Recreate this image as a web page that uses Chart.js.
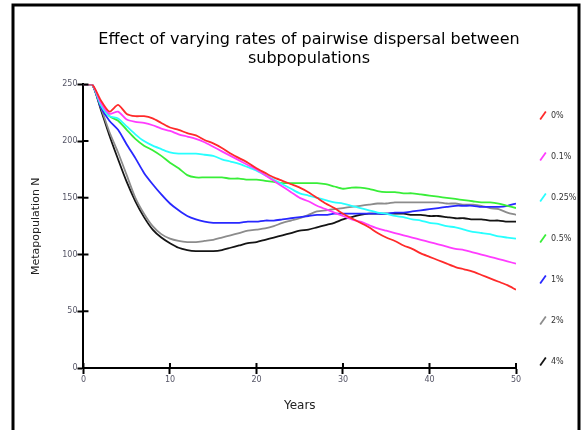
<!DOCTYPE html>
<html lang="en">
<head>
<meta charset="UTF-8">
<title>Effect of varying rates of pairwise dispersal</title>
<script src="https://cdn.jsdelivr.net/npm/chart.js"></script>
<style>
  html, body { margin: 0; padding: 0; background: #fff; }
  #wrap { width: 582px; height: 430px; }
</style>
</head>
<body>
<div id="wrap"><canvas id="chart" width="582" height="430"></canvas></div>
<script>
// years 0..50
const years = [];
for (let i = 0; i <= 50; i++) years.push(i);

const labels = ['0%', '0.1%', '0.25%', '0.5%', '1%', '2%', '4%'];
const colors = ['#ff2a2a', '#ff3cff', '#28ffff', '#38ee38', '#2828ff', '#8c8c8c', '#141414'];

const rate0 = [250,250,236,226,232,224,222,222,220,216,212,210,207,205,201,198,194,189,185,181,176,172,168,165,162,159,155,150,145,141,136,132,128,124,119,115,112,108,105,101,98,95,92,89,87,85,82,79,76,73,69];
const rate01 = [250,250,234,224,226,219,217,216,214,211,209,206,204,202,199,195,191,187,183,179,175,170,165,160,155,150,147,143,140,137,134,131,129,126,123,121,119,117,115,113,111,109,107,105,104,102,100,98,96,94,92];
const rate025 = [250,250,232,222,220,213,206,200,196,193,190,189,189,189,188,187,184,182,180,177,174,170,166,162,158,154,152,150,148,146,145,143,141,139,137,136,134,133,131,130,128,127,125,124,122,120,119,118,116,115,114];
const rate05 = [250,250,232,222,218,210,202,196,192,187,181,176,170,168,168,168,168,167,167,166,166,165,164,163,163,163,163,163,162,160,158,159,159,158,156,155,155,154,154,153,152,151,150,149,148,147,146,146,145,143,141];
const rate1 = [250,250,230,218,210,197,185,172,162,153,145,139,134,131,129,128,128,128,128,129,129,130,130,131,132,133,134,135,135,136,136,136,136,136,136,136,137,137,138,139,140,141,142,143,143,143,142,142,142,143,145];
const rate2 = [250,250,230,208,190,170,150,136,125,118,114,112,111,111,112,113,115,117,119,121,122,123,125,128,130,132,135,138,139,140,141,142,143,144,145,145,146,146,146,146,146,146,145,145,144,144,143,141,140,137,135];
const rate4 = [250,250,228,205,184,164,147,133,122,115,110,106,104,103,103,103,104,106,108,110,111,113,115,117,119,121,122,124,126,128,131,133,135,136,136,136,136,136,135,135,134,134,133,132,132,131,131,130,130,129,129];

const series = [rate0, rate01, rate025, rate05, rate1, rate2, rate4];

const xTicks = [0, 10, 20, 30, 40, 50];
const yTicks = [0, 50, 100, 150, 200, 250];

const FONT = 'DejaVu Sans';

// frame around the figure (left, top, right)
const framePlugin = {
  id: 'frame',
  afterDraw(chart) {
    const ctx = chart.ctx;
    ctx.save();
    ctx.strokeStyle = '#000';
    ctx.lineWidth = 3;
    ctx.beginPath();
    ctx.moveTo(13, 430);
    ctx.lineTo(13, 5);
    ctx.lineTo(579, 5);
    ctx.lineTo(579, 430);
    ctx.stroke();
    ctx.restore();
  }
};

// the ticks in the original cross the axis line: draw the inner half
const innerTicks = {
  id: 'innerTicks',
  afterDraw(chart) {
    const ctx = chart.ctx;
    const { x, y } = chart.scales;
    ctx.save();
    ctx.strokeStyle = '#000';
    ctx.lineWidth = 2;
    ctx.beginPath();
    xTicks.forEach(v => {
      const px = x.getPixelForValue(v);
      ctx.moveTo(px, y.bottom);
      ctx.lineTo(px, y.bottom - 5);
    });
    yTicks.forEach(v => {
      const py = y.getPixelForValue(v);
      ctx.moveTo(x.left, py);
      ctx.lineTo(x.left + 5, py);
    });
    ctx.stroke();
    ctx.restore();
  }
};

// legend padding is wide on both sides, pull the items closer to the plot and lower
const legendShift = {
  id: 'legendShift',
  afterLayout(chart) {
    chart.legend.left -= 10;
    chart.legend.right -= 10;
    chart.legend.top += 23;
    chart.legend.bottom += 23;
  }
};

const ctx = document.getElementById('chart').getContext('2d');
new Chart(ctx, {
  type: 'line',
  data: {
    labels: years,
    datasets: series.map((s, i) => ({
      label: labels[i],
      data: s.map((v, k) => ({ x: years[k], y: v })),
      borderColor: colors[i],
      backgroundColor: colors[i],
      borderWidth: 1.8,
      pointRadius: 0,
      pointStyle: 'line',
      pointRotation: -55,
      tension: 0.25,
      fill: false
    }))
  },
  options: {
    responsive: false,
    animation: false,
    layout: { padding: { left: 26, right: -10, top: 14, bottom: 13 } },
    plugins: {
      title: {
        display: true,
        text: ['Effect of varying rates of pairwise dispersal between', 'subpopulations'],
        font: { family: FONT, size: 16, weight: 'normal' },
        color: '#000',
        padding: { top: 16, bottom: 16 }
      },
      legend: {
        position: 'right',
        maxWidth: 76,
        labels: {
          usePointStyle: true,
          boxHeight: 7,
          padding: 33,
          color: '#333',
          font: { family: FONT, size: 8 }
        }
      },
      tooltip: { enabled: false }
    },
    scales: {
      x: {
        type: 'linear',
        min: 0,
        max: 50,
        afterBuildTicks: axis => { axis.ticks = xTicks.map(v => ({ value: v })); },
        grid: { drawOnChartArea: false, tickLength: 6, color: '#000', tickWidth: 2 },
        border: { color: '#000', width: 2 },
        ticks: { color: '#556', font: { family: FONT, size: 8 }, padding: 1 },
        title: { display: true, text: 'Years', color: '#222', font: { family: FONT, size: 12 }, padding: { top: 13, bottom: 4 } }
      },
      y: {
        min: 0,
        max: 250,
        afterBuildTicks: axis => { axis.ticks = yTicks.map(v => ({ value: v })); },
        grid: { drawOnChartArea: false, tickLength: 6, color: '#000', tickWidth: 2 },
        border: { color: '#000', width: 2 },
        ticks: { color: '#556', font: { family: FONT, size: 8 }, padding: 0 },
        title: { display: true, text: 'Metapopulation N', color: '#222', font: { family: FONT, size: 11 }, padding: { top: 4, bottom: 19 } }
      }
    }
  },
  plugins: [framePlugin, innerTicks, legendShift]
});
</script>
</body>
</html>
